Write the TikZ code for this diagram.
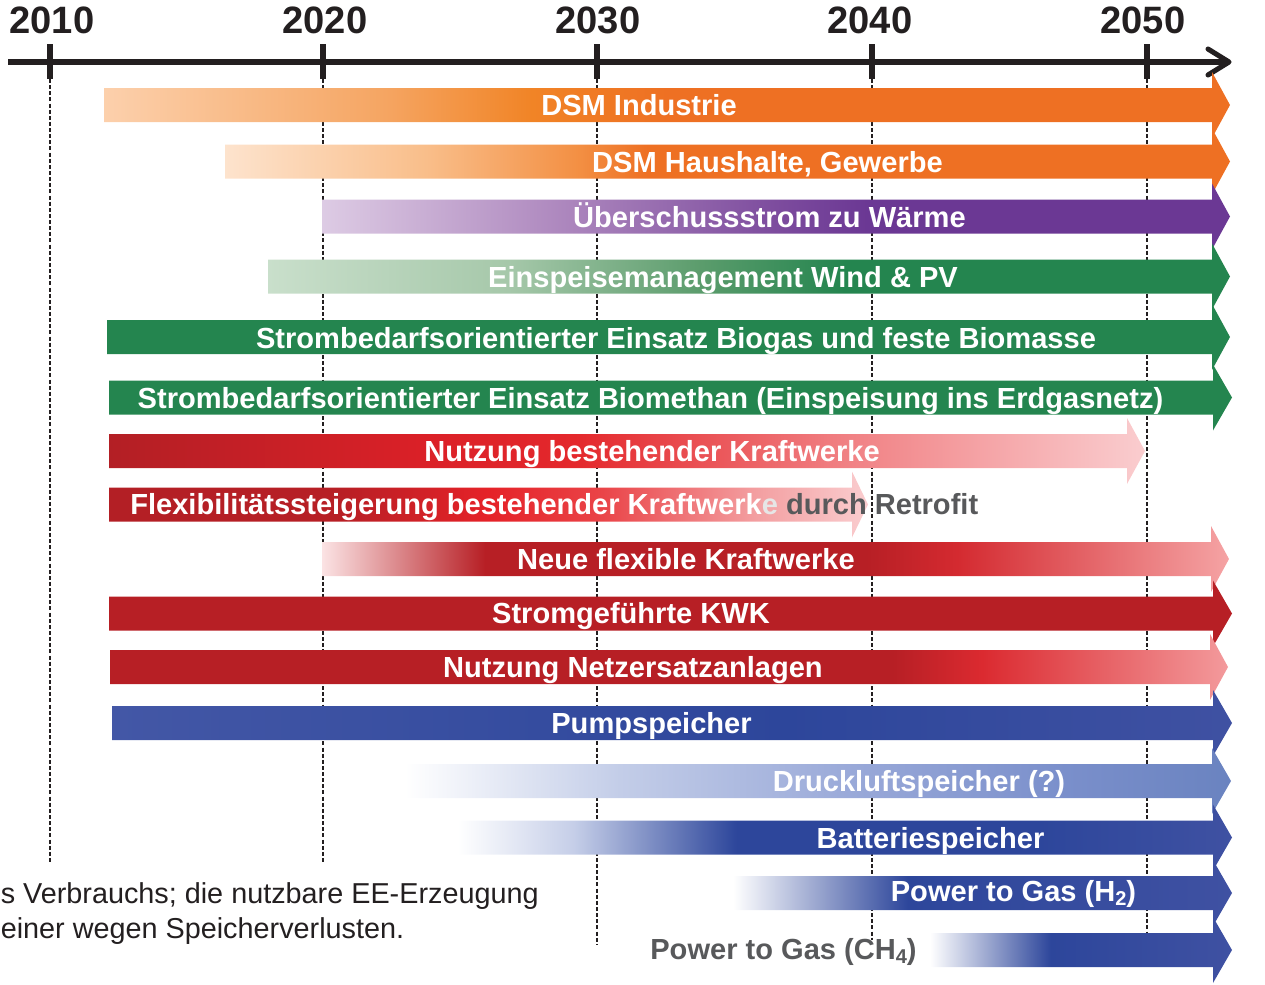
\documentclass[tikz,border=0pt]{standalone}
\usepackage{fontspec}
\setmainfont{Liberation Sans}
\definecolor{ink}{HTML}{231F20}
\definecolor{txtgray}{HTML}{58595B}
\definecolor{ltgray}{HTML}{E6E6E6}
\definecolor{orA}{HTML}{FCD0AC}
\definecolor{orB}{HTML}{F5A562}
\definecolor{orC}{HTML}{F18426}
\definecolor{orD}{HTML}{EE7023}
\definecolor{orE}{HTML}{FDE3CD}
\definecolor{orF}{HTML}{F9BE8A}
\definecolor{orG}{HTML}{F39044}
\definecolor{puA}{HTML}{DDCBE4}
\definecolor{puB}{HTML}{B08BC0}
\definecolor{puC}{HTML}{7D4C9E}
\definecolor{puD}{HTML}{6B3894}
\definecolor{grA}{HTML}{C9DFCB}
\definecolor{grB}{HTML}{A6C8AA}
\definecolor{grC}{HTML}{5B9C6C}
\definecolor{grD}{HTML}{24854F}
\definecolor{rdA}{HTML}{B31F25}
\definecolor{rdB}{HTML}{DA2027}
\definecolor{rdC}{HTML}{E4282C}
\definecolor{rdD}{HTML}{F07D80}
\definecolor{rdE}{HTML}{FACDCF}
\definecolor{rdF}{HTML}{B71F25}
\definecolor{rdG}{HTML}{E52228}
\definecolor{rdH}{HTML}{EA4448}
\definecolor{rdI}{HTML}{F39EA0}
\definecolor{rdJ}{HTML}{FBE3E4}
\definecolor{rdK}{HTML}{D42A30}
\definecolor{rdL}{HTML}{F5A3A4}
\definecolor{rdM}{HTML}{DB2A30}
\definecolor{rdN}{HTML}{F39A9C}
\definecolor{blA}{HTML}{4357A6}
\definecolor{blB}{HTML}{2D469B}
\definecolor{blC}{HTML}{3F51A2}
\definecolor{blD}{HTML}{C3CDE8}
\definecolor{blE}{HTML}{98A8D8}
\definecolor{blF}{HTML}{7A8FCB}
\definecolor{blG}{HTML}{6A83C0}
\definecolor{blH}{HTML}{C5CEE8}
% stops: fraction f of bar length -> 25+50f bp
\pgfdeclarehorizontalshading{shIndustrie}{100bp}{color(0bp)=(orA); color(25bp)=(orA); color(37.5bp)=(orB); color(44bp)=(orC); color(50bp)=(orD); color(100bp)=(orD)}
\pgfdeclarehorizontalshading{shHaushalt}{100bp}{color(0bp)=(orE); color(25bp)=(orE); color(35bp)=(orF); color(42.5bp)=(orG); color(46bp)=(orD); color(100bp)=(orD)}
\pgfdeclarehorizontalshading{shWaerme}{100bp}{color(0bp)=(puA); color(25bp)=(puA); color(37.5bp)=(puB); color(50bp)=(puC); color(55bp)=(puD); color(100bp)=(puD)}
\pgfdeclarehorizontalshading{shWind}{100bp}{color(0bp)=(grA); color(25bp)=(grA); color(37.5bp)=(grB); color(47.5bp)=(grC); color(55bp)=(grD); color(100bp)=(grD)}
\pgfdeclarehorizontalshading{shBestand}{100bp}{color(0bp)=(rdA); color(25bp)=(rdA); color(40bp)=(rdB); color(47.5bp)=(rdC); color(60bp)=(rdD); color(75bp)=(rdE); color(100bp)=(rdE)}
\pgfdeclarehorizontalshading{shFlex}{100bp}{color(0bp)=(rdA); color(25bp)=(rdA); color(40bp)=(rdF); color(50bp)=(rdG); color(57.5bp)=(rdH); color(67.5bp)=(rdI); color(75bp)=(rdE); color(100bp)=(rdE)}
\pgfdeclarehorizontalshading{shNeu}{100bp}{color(0bp)=(rdJ); color(25bp)=(rdJ); color(34bp)=(rdF); color(55bp)=(rdF); color(60bp)=(rdK); color(75bp)=(rdL); color(100bp)=(rdL)}
\pgfdeclarehorizontalshading{shNetz}{100bp}{color(0bp)=(rdF); color(25bp)=(rdF); color(60bp)=(rdF); color(64bp)=(rdM); color(75bp)=(rdN); color(100bp)=(rdN)}
\pgfdeclarehorizontalshading{shPump}{100bp}{color(0bp)=(blA); color(25bp)=(blA); color(55bp)=(blB); color(75bp)=(blC); color(100bp)=(blC)}
\pgfdeclarehorizontalshading{shDruck}{100bp}{color(0bp)=(white); color(25bp)=(white); color(38bp)=(blD); color(52.5bp)=(blE); color(65bp)=(blF); color(75bp)=(blG); color(100bp)=(blG)}
\pgfdeclarehorizontalshading{shBatt}{100bp}{color(0bp)=(white); color(25bp)=(white); color(32.5bp)=(blH); color(43bp)=(blB); color(62.5bp)=(blB); color(75bp)=(blC); color(100bp)=(blC)}
\pgfdeclarehorizontalshading{shHzwei}{100bp}{color(0bp)=(white); color(25bp)=(white); color(42.5bp)=(blB); color(75bp)=(blC); color(100bp)=(blC)}
\pgfdeclarehorizontalshading{shCH}{100bp}{color(0bp)=(white); color(25bp)=(white); color(45bp)=(blB); color(75bp)=(blC); color(100bp)=(blC)}
\newcommand\flexbar[5]{%
  \path[#5] (#1,#2-17) -- (#3,#2-17) -- (#3,#2-33) -- (#4,#2) -- (#3,#2+33) -- (#3,#2+17) -- (#1,#2+17) -- cycle;}
\newcommand\lowsub[1]{\raisebox{-0.3ex}{\fontsize{15}{16}\selectfont #1}}
\begin{document}
\begin{tikzpicture}[x=0.75pt,y=-0.75pt,
  year/.style={font=\bfseries\fontsize{28.6}{32}\selectfont, text=ink, inner sep=0pt},
  lbl/.style={font=\bfseries\fontsize{21.8}{25}\selectfont, text=white, inner sep=0pt, anchor=base},
  foot/.style={font=\fontsize{21.6}{25}\selectfont, text=ink, inner sep=0pt, anchor=base west},
  axisline/.style={draw=ink, line width=3.8pt},
  tick/.style={draw=ink, line width=4.5pt},
  yearline/.style={draw=ink, line width=1.1pt, dash pattern=on 3pt off 1.6pt}]
\useasboundingbox (0,0) rectangle (1265,985);
% dashed year lines (behind bars)
\coordinate (d10a) at (50,79);  \coordinate (d10b) at (50,862);
\coordinate (d20a) at (323,79); \coordinate (d20b) at (323,862);
\coordinate (d30a) at (597,79); \coordinate (d30b) at (597,945);
\coordinate (d40a) at (872,79); \coordinate (d40b) at (872,940);
\coordinate (d50a) at (1147,79); \coordinate (d50b) at (1147,933);
\foreach \n in {10,20,30,40,50} \draw[yearline] (d\n a) -- (d\n b);
% timeline
\coordinate (axL) at (8,62); \coordinate (axR) at (1228,62);
\draw[axisline] (axL) -- (axR);
\draw[axisline, line cap=round, line join=round] (1208,49) -- (1229,62) -- (1208,75);
\foreach \x in {50,323,597,872,1147} \draw[tick] (\x,44) -- (\x,79);
\node[year] (y2010) at (52,20) {2010};
\node[year] (y2020) at (325,20) {2020};
\node[year] (y2030) at (598,20) {2030};
\node[year] (y2040) at (870,20) {2040};
\node[year] (y2050) at (1143,20) {2050};
% bars
\flexbar{104}{105}{1212}{1230}{shading=shIndustrie}
\flexbar{225}{161.5}{1212}{1230}{shading=shHaushalt}
\flexbar{322}{216.5}{1212}{1230}{shading=shWaerme}
\flexbar{268}{276.5}{1212}{1230}{shading=shWind}
\flexbar{107}{337}{1212}{1230}{fill=grD}
\flexbar{109}{397.5}{1213}{1232}{fill=grD}
\flexbar{109}{451}{1127}{1145}{shading=shBestand}
\flexbar{109}{504.5}{852}{868}{shading=shFlex}
\flexbar{322}{559}{1211}{1229}{shading=shNeu}
\flexbar{109}{613.5}{1213}{1232}{fill=rdF}
\flexbar{110}{667}{1210}{1228}{shading=shNetz}
\flexbar{112}{723}{1213}{1232}{shading=shPump}
\flexbar{405}{781}{1212}{1231}{shading=shDruck}
\flexbar{458}{837.5}{1213}{1232}{shading=shBatt}
\flexbar{733}{893}{1213}{1232}{shading=shHzwei}
\flexbar{930}{950}{1213}{1232}{shading=shCH}
% labels
\node[lbl] (l1) at (639,115) {DSM Industrie};
\node[lbl] (l2) at (767.5,172) {DSM Haushalte, Gewerbe};
\node[lbl] (l3) at (769.5,227) {Überschussstrom zu Wärme};
\node[lbl] (l4) at (723,287) {Einspeisemanagement Wind \& PV};
\node[lbl] (l5) at (676,348) {Strombedarfsorientierter Einsatz Biogas und feste Biomasse};
\node[lbl] (l6) at (650.5,408) {Strombedarfsorientierter Einsatz Biomethan (Einspeisung ins Erdgasnetz)};
\node[lbl] (l7) at (652,461) {Nutzung bestehender Kraftwerke};
\node[lbl, anchor=base west] (l8) at (130,514) {Flexibilitätssteigerung bestehender Kraftwerk\textcolor{ltgray}{e} \textcolor{txtgray}{durch Retrofit}};
\node[lbl] (l9) at (686,569) {Neue flexible Kraftwerke};
\node[lbl] (l10) at (631,623) {Stromgeführte KWK};
\node[lbl] (l11) at (633,677) {Nutzung Netzersatzanlagen};
\node[lbl] (l12) at (651.5,733) {Pumpspeicher};
\node[lbl] (l13) at (919,791) {Druckluftspeicher (?)};
\node[lbl] (l14) at (930.5,848) {Batteriespeicher};
\node[lbl] (l15) at (1013.5,901) {Power to Gas (H\lowsub{2})};
\node[lbl, text=txtgray] (l16) at (783.5,959) {Power to Gas (CH\lowsub{4})};
% footnote fragment
\node[foot] (f1) at (0.5,903) {s Verbrauchs; die nutzbare EE-Erzeugung};
\node[foot] (f2) at (0.5,938) {einer wegen Speicherverlusten.};
\end{tikzpicture}
\end{document}
